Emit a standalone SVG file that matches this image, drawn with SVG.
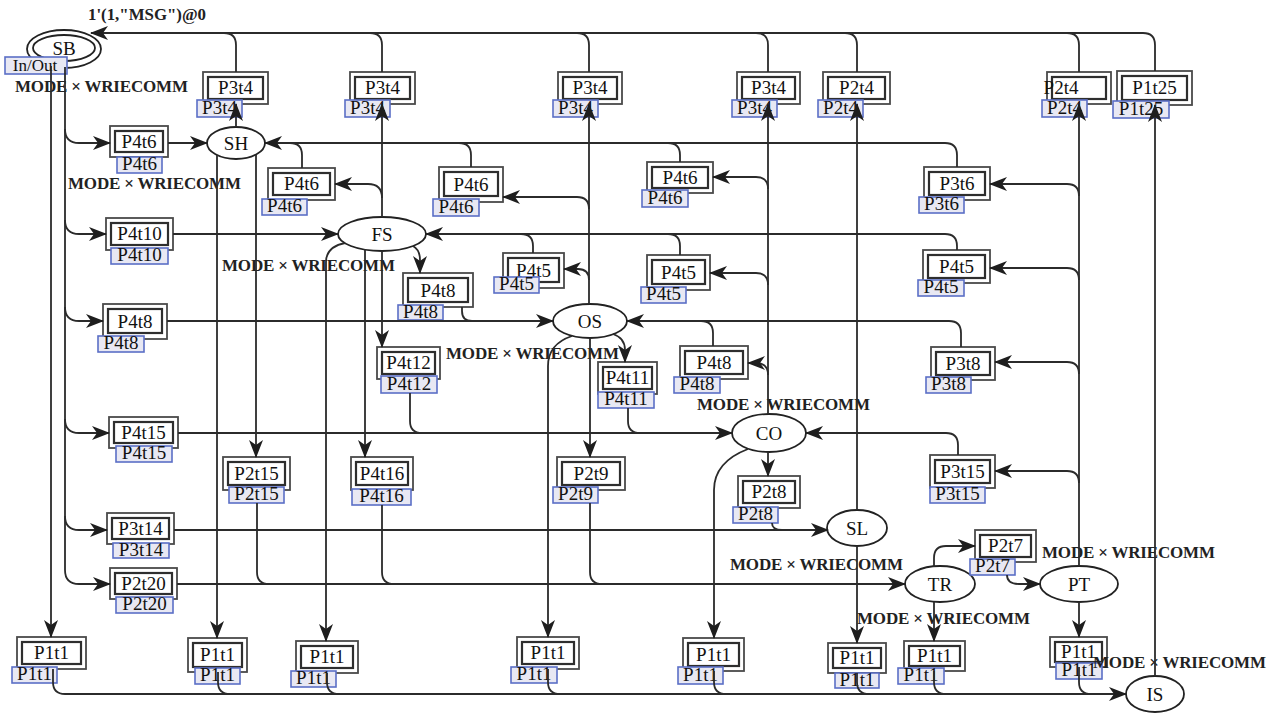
<svg xmlns="http://www.w3.org/2000/svg" width="1279" height="713" viewBox="0 0 1279 713">
<style>
.ln{fill:none;stroke:#2b2b2b;stroke-width:1.8}
.a{marker-end:url(#ah)}
.ob{fill:#fff;stroke:#4a4a4a;stroke-width:1.8}
.ib{fill:#fff;stroke:#2e2e2e;stroke-width:2.2}
.tg{fill:#e8e8f3;stroke:#5b6fc6;stroke-width:1.6}
.t{font-family:"Liberation Serif",serif;font-size:19px;fill:#111;text-anchor:middle}
.pl{fill:#fff;stroke:#222;stroke-width:1.8}
.m{font-family:"Liberation Serif",serif;font-size:17px;font-weight:bold;fill:#222}
</style>
<defs>
<marker id="ah" markerUnits="userSpaceOnUse" viewBox="0 0 18 14" refX="17" refY="7" markerWidth="18" markerHeight="14" orient="auto">
<path d="M0,0 L18,7 L0,14 L5,7 Z" fill="#1e1e1e"/>
</marker>
</defs>
<rect width="1279" height="713" fill="#fff"/>

<g id="places">
<g id="SB"><ellipse class="pl" cx="64" cy="49" rx="37" ry="19"/><ellipse class="pl" cx="64" cy="48" rx="31" ry="13"/><text class="t" x="64" y="55">SB</text>
<rect class="tg" x="5" y="57" width="62" height="17"/><text class="t" x="35" y="71" style="font-size:17px">In/Out</text></g>
<g id="SH"><ellipse class="pl" cx="236" cy="143" rx="29" ry="16"/><text class="t" x="236" y="150">SH</text></g>
<g id="FS"><ellipse class="pl" cx="382" cy="234" rx="44" ry="17"/><text class="t" x="382" y="241">FS</text></g>
<g id="OS"><ellipse class="pl" cx="590" cy="321" rx="37" ry="17"/><text class="t" x="590" y="328">OS</text></g>
<g id="CO"><ellipse class="pl" cx="769" cy="433" rx="37" ry="19"/><text class="t" x="769" y="440">CO</text></g>
<g id="SL"><ellipse class="pl" cx="857" cy="528" rx="30" ry="18"/><text class="t" x="857" y="535">SL</text></g>
<g id="TR"><ellipse class="pl" cx="940" cy="584" rx="35" ry="18"/><text class="t" x="940" y="591">TR</text></g>
<g id="PT"><ellipse class="pl" cx="1079" cy="584" rx="39" ry="18"/><text class="t" x="1079" y="591">PT</text></g>
<g id="IS"><ellipse class="pl" cx="1155" cy="694" rx="29" ry="18"/><text class="t" x="1155" y="701">IS</text></g>
</g>

<g id="transitions">
<g id="t1"><rect class="ob" x="203" y="72" width="65" height="32"/><rect class="ib" x="208" y="77" width="55" height="22"/><text class="t" x="235.5" y="94">P3t4</text><rect class="tg" x="197" y="100" width="45" height="17"/><text class="t" x="219.5" y="114">P3t4</text></g>
<g id="t2"><rect class="ob" x="350" y="72" width="65" height="32"/><rect class="ib" x="355" y="77" width="55" height="22"/><text class="t" x="382.5" y="94">P3t4</text><rect class="tg" x="345" y="100" width="45" height="17"/><text class="t" x="367.5" y="114">P3t4</text></g>
<g id="t3"><rect class="ob" x="558" y="72" width="64" height="32"/><rect class="ib" x="563" y="77" width="54" height="22"/><text class="t" x="590" y="94">P3t4</text><rect class="tg" x="553" y="100" width="45" height="17"/><text class="t" x="575.5" y="114">P3t4</text></g>
<g id="t4"><rect class="ob" x="737" y="72" width="63" height="32"/><rect class="ib" x="742" y="77" width="53" height="22"/><text class="t" x="768.5" y="94">P3t4</text><rect class="tg" x="732" y="100" width="45" height="17"/><text class="t" x="754.5" y="114">P3t4</text></g>
<g id="t5"><rect class="ob" x="823" y="72" width="67" height="32"/><rect class="ib" x="828" y="77" width="57" height="22"/><text class="t" x="856.5" y="94">P2t4</text><rect class="tg" x="818" y="100" width="45" height="17"/><text class="t" x="840.5" y="114">P2t4</text></g>
<g id="t6"><rect class="ob" x="1047" y="72" width="64" height="32"/><rect class="ib" x="1052" y="77" width="54" height="22"/><text class="t" x="1061" y="94">P2t4</text><rect class="tg" x="1042" y="100" width="45" height="17"/><text class="t" x="1064.5" y="114">P2t4</text></g>
<g id="t7"><rect class="ob" x="1117" y="71" width="75" height="34"/><rect class="ib" x="1122" y="76" width="65" height="24"/><text class="t" x="1154.5" y="94">P1t25</text><rect class="tg" x="1113" y="101" width="56" height="17"/><text class="t" x="1141" y="115">P1t25</text></g>
<g id="t8"><rect class="ob" x="110" y="126" width="58" height="31"/><rect class="ib" x="115" y="131" width="48" height="21"/><text class="t" x="139" y="148">P4t6</text><rect class="tg" x="117" y="157" width="45" height="16"/><text class="t" x="139.5" y="170">P4t6</text></g>
<g id="t9"><rect class="ob" x="268" y="168" width="67" height="32"/><rect class="ib" x="273" y="173" width="57" height="22"/><text class="t" x="301.5" y="190">P4t6</text><rect class="tg" x="262" y="199" width="45" height="16"/><text class="t" x="284.5" y="212">P4t6</text></g>
<g id="t10"><rect class="ob" x="439" y="167" width="64" height="35"/><rect class="ib" x="444" y="172" width="54" height="24"/><text class="t" x="471" y="191">P4t6</text><rect class="tg" x="433" y="199" width="46" height="17"/><text class="t" x="456" y="213">P4t6</text></g>
<g id="t11"><rect class="ob" x="647" y="162" width="66" height="31"/><rect class="ib" x="652" y="167" width="56" height="21"/><text class="t" x="680" y="184">P4t6</text><rect class="tg" x="642" y="190" width="46" height="17"/><text class="t" x="665" y="204">P4t6</text></g>
<g id="t12"><rect class="ob" x="924" y="167" width="66" height="33"/><rect class="ib" x="929" y="172" width="56" height="23"/><text class="t" x="957" y="190">P3t6</text><rect class="tg" x="919" y="197" width="45" height="16"/><text class="t" x="941.5" y="210">P3t6</text></g>
<g id="t13"><rect class="ob" x="106" y="218" width="67" height="32"/><rect class="ib" x="111" y="223" width="57" height="22"/><text class="t" x="139.5" y="240">P4t10</text><rect class="tg" x="111" y="248" width="57" height="16"/><text class="t" x="139.5" y="261">P4t10</text></g>
<g id="t14"><rect class="ob" x="103" y="304" width="64" height="35"/><rect class="ib" x="108" y="309" width="54" height="24"/><text class="t" x="135" y="328">P4t8</text><rect class="tg" x="98" y="336" width="46" height="16"/><text class="t" x="121" y="349">P4t8</text></g>
<g id="t15"><rect class="ob" x="403" y="273" width="70" height="34"/><rect class="ib" x="408" y="278" width="60" height="24"/><text class="t" x="438" y="297">P4t8</text><rect class="tg" x="398" y="305" width="45" height="15"/><text class="t" x="420.5" y="318">P4t8</text></g>
<g id="t16"><rect class="ob" x="503" y="253" width="61" height="35"/><rect class="ib" x="508" y="258" width="51" height="24"/><text class="t" x="533.5" y="277">P4t5</text><rect class="tg" x="494" y="277" width="45" height="16"/><text class="t" x="516.5" y="290">P4t5</text></g>
<g id="t17"><rect class="ob" x="647" y="255" width="63" height="35"/><rect class="ib" x="652" y="260" width="53" height="24"/><text class="t" x="678.5" y="279">P4t5</text><rect class="tg" x="641" y="287" width="45" height="16"/><text class="t" x="663.5" y="300">P4t5</text></g>
<g id="t18"><rect class="ob" x="923" y="250" width="67" height="33"/><rect class="ib" x="928" y="255" width="57" height="23"/><text class="t" x="956.5" y="273">P4t5</text><rect class="tg" x="918" y="280" width="46" height="16"/><text class="t" x="941" y="293">P4t5</text></g>
<g id="t19"><rect class="ob" x="377" y="347" width="63" height="32"/><rect class="ib" x="382" y="352" width="53" height="22"/><text class="t" x="408.5" y="369">P4t12</text><rect class="tg" x="381" y="376" width="56" height="17"/><text class="t" x="409" y="390">P4t12</text></g>
<g id="t20"><rect class="ob" x="598" y="362" width="59" height="32"/><rect class="ib" x="603" y="367" width="49" height="22"/><text class="t" x="627.5" y="384">P4t11</text><rect class="tg" x="598" y="392" width="56" height="16"/><text class="t" x="626" y="405">P4t11</text></g>
<g id="t21"><rect class="ob" x="680" y="346" width="68" height="33"/><rect class="ib" x="685" y="351" width="58" height="23"/><text class="t" x="714" y="369">P4t8</text><rect class="tg" x="674" y="377" width="46" height="16"/><text class="t" x="697" y="390">P4t8</text></g>
<g id="t22"><rect class="ob" x="931" y="347" width="64" height="33"/><rect class="ib" x="936" y="352" width="54" height="23"/><text class="t" x="963" y="370">P3t8</text><rect class="tg" x="926" y="377" width="45" height="16"/><text class="t" x="948.5" y="390">P3t8</text></g>
<g id="t23"><rect class="ob" x="109" y="417" width="69" height="31"/><rect class="ib" x="114" y="422" width="59" height="21"/><text class="t" x="143.5" y="439">P4t15</text><rect class="tg" x="116" y="446" width="56" height="16"/><text class="t" x="144" y="459">P4t15</text></g>
<g id="t24"><rect class="ob" x="223" y="457" width="67" height="33"/><rect class="ib" x="228" y="462" width="57" height="23"/><text class="t" x="256.5" y="480">P2t15</text><rect class="tg" x="229" y="487" width="55" height="16"/><text class="t" x="256.5" y="500">P2t15</text></g>
<g id="t25"><rect class="ob" x="351" y="457" width="62" height="33"/><rect class="ib" x="356" y="462" width="52" height="23"/><text class="t" x="382" y="480">P4t16</text><rect class="tg" x="352" y="489" width="59" height="16"/><text class="t" x="381.5" y="502">P4t16</text></g>
<g id="t26"><rect class="ob" x="557" y="457" width="68" height="33"/><rect class="ib" x="562" y="462" width="58" height="23"/><text class="t" x="591" y="480">P2t9</text><rect class="tg" x="553" y="487" width="45" height="16"/><text class="t" x="575.5" y="500">P2t9</text></g>
<g id="t27"><rect class="ob" x="738" y="476" width="62" height="32"/><rect class="ib" x="743" y="481" width="52" height="22"/><text class="t" x="769" y="498">P2t8</text><rect class="tg" x="733" y="507" width="45" height="16"/><text class="t" x="755.5" y="520">P2t8</text></g>
<g id="t28"><rect class="ob" x="930" y="455" width="65" height="33"/><rect class="ib" x="935" y="460" width="55" height="23"/><text class="t" x="962.5" y="478">P3t15</text><rect class="tg" x="930" y="487" width="55" height="16"/><text class="t" x="957.5" y="500">P3t15</text></g>
<g id="t29"><rect class="ob" x="107" y="513" width="67" height="31"/><rect class="ib" x="112" y="518" width="57" height="21"/><text class="t" x="140.5" y="535">P3t14</text><rect class="tg" x="113" y="543" width="56" height="15"/><text class="t" x="141" y="556">P3t14</text></g>
<g id="t30"><rect class="ob" x="110" y="568" width="67" height="31"/><rect class="ib" x="115" y="573" width="57" height="21"/><text class="t" x="143.5" y="590">P2t20</text><rect class="tg" x="116" y="597" width="57" height="16"/><text class="t" x="144.5" y="610">P2t20</text></g>
<g id="t31"><rect class="ob" x="975" y="530" width="61" height="32"/><rect class="ib" x="980" y="535" width="51" height="22"/><text class="t" x="1005.5" y="552">P2t7</text><rect class="tg" x="970" y="559" width="45" height="16"/><text class="t" x="992.5" y="572">P2t7</text></g>
<g id="t32"><rect class="ob" x="17" y="637" width="69" height="32"/><rect class="ib" x="22" y="642" width="59" height="22"/><text class="t" x="51.5" y="659">P1t1</text><rect class="tg" x="12" y="667" width="45" height="16"/><text class="t" x="34.5" y="680">P1t1</text></g>
<g id="t33"><rect class="ob" x="188" y="638" width="59" height="34"/><rect class="ib" x="193" y="643" width="49" height="24"/><text class="t" x="217.5" y="661">P1t1</text><rect class="tg" x="195" y="668" width="45" height="16"/><text class="t" x="217.5" y="681">P1t1</text></g>
<g id="t34"><rect class="ob" x="296" y="641" width="62" height="32"/><rect class="ib" x="301" y="646" width="52" height="22"/><text class="t" x="327" y="663">P1t1</text><rect class="tg" x="291" y="671" width="45" height="16"/><text class="t" x="313.5" y="684">P1t1</text></g>
<g id="t35"><rect class="ob" x="517" y="637" width="62" height="32"/><rect class="ib" x="522" y="642" width="52" height="22"/><text class="t" x="548" y="659">P1t1</text><rect class="tg" x="511" y="667" width="46" height="16"/><text class="t" x="534" y="680">P1t1</text></g>
<g id="t36"><rect class="ob" x="683" y="638" width="61" height="33"/><rect class="ib" x="688" y="643" width="51" height="23"/><text class="t" x="713.5" y="661">P1t1</text><rect class="tg" x="678" y="667" width="45" height="17"/><text class="t" x="700.5" y="681">P1t1</text></g>
<g id="t37"><rect class="ob" x="828" y="643" width="58" height="30"/><rect class="ib" x="833" y="648" width="48" height="20"/><text class="t" x="857" y="664">P1t1</text><rect class="tg" x="835" y="673" width="44" height="15"/><text class="t" x="857" y="686">P1t1</text></g>
<g id="t38"><rect class="ob" x="904" y="641" width="61" height="30"/><rect class="ib" x="909" y="646" width="51" height="20"/><text class="t" x="934.5" y="662">P1t1</text><rect class="tg" x="898" y="668" width="46" height="16"/><text class="t" x="921" y="681">P1t1</text></g>
<g id="t39"><rect class="ob" x="1050" y="637" width="57" height="30"/><rect class="ib" x="1055" y="642" width="47" height="20"/><text class="t" x="1078.5" y="658">P1t1</text><rect class="tg" x="1056" y="663" width="46" height="16"/><text class="t" x="1079" y="676">P1t1</text></g>
</g>

<g id="labels">
<text class="m" x="88" y="20" textLength="118" lengthAdjust="spacingAndGlyphs">1'(1,"MSG")@0</text>
<text class="m" x="15" y="92" textLength="173">MODE × WRIECOMM</text>
<text class="m" x="68" y="189" textLength="173">MODE × WRIECOMM</text>
<text class="m" x="222" y="271" textLength="173">MODE × WRIECOMM</text>
<text class="m" x="446" y="359" textLength="173">MODE × WRIECOMM</text>
<text class="m" x="697" y="410" textLength="173">MODE × WRIECOMM</text>
<text class="m" x="730" y="570" textLength="173">MODE × WRIECOMM</text>
<text class="m" x="857" y="624" textLength="173">MODE × WRIECOMM</text>
<text class="m" x="1042" y="558" textLength="173">MODE × WRIECOMM</text>
<text class="m" x="1093" y="668" textLength="173">MODE × WRIECOMM</text>
</g>

<g id="connectors">
<!-- to SB along the top -->
<path class="ln a" d="M1155,71 V45 Q1155,33 1143,33 H91"/>
<path class="ln" d="M1079,72 V45 Q1079,33 1067,33 H1055"/>
<path class="ln" d="M857,72 V45 Q857,33 845,33 H833"/>
<path class="ln" d="M768,72 V45 Q768,33 756,33 H744"/>
<path class="ln" d="M589,72 V45 Q589,33 577,33 H565"/>
<path class="ln" d="M382,72 V45 Q382,33 370,33 H358"/>
<path class="ln" d="M236,72 V45 Q236,33 224,33 H212"/>
<!-- from SB -->
<path class="ln a" d="M51,66 V637"/>
<path class="ln a" d="M65,67 V570 Q65,584 79,584 H110"/>
<path class="ln a" d="M65,129 Q65,143 79,143 H110"/>
<path class="ln a" d="M65,220 Q65,234 79,234 H106"/>
<path class="ln a" d="M65,307 Q65,321 79,321 H103"/>
<path class="ln a" d="M65,419 Q65,433 79,433 H109"/>
<path class="ln a" d="M65,516 Q65,530 79,530 H107"/>
<!-- SH -->
<path class="ln a" d="M168,143 H207"/>
<path class="ln a" d="M236,127 V104"/>
<path class="ln a" d="M957,167 V155 Q957,143 945,143 H265"/>
<path class="ln" d="M302,168 V155 Q302,143 290,143 H278"/>
<path class="ln" d="M471,167 V155 Q471,143 459,143 H447"/>
<path class="ln" d="M680,162 V155 Q680,143 668,143 H656"/>
<path class="ln a" d="M217,155 V638"/>
<path class="ln a" d="M256,155 V457"/>
<!-- FS -->
<path class="ln a" d="M173,234 H338"/>
<path class="ln a" d="M957,250 V246 Q957,234 945,234 H426"/>
<path class="ln" d="M533,253 V246 Q533,234 521,234 H509"/>
<path class="ln" d="M680,255 V246 Q680,234 668,234 H656"/>
<path class="ln a" d="M382,217 V104"/>
<path class="ln a" d="M382,198 Q382,184 368,184 H335"/>
<path class="ln a" d="M413,246 Q420,250 420,260 V273"/>
<path class="ln a" d="M382,251 V347"/>
<path class="ln a" d="M365,249 V457"/>
<path class="ln a" d="M345,243 Q326,247 326,262 V641"/>
<!-- OS -->
<path class="ln a" d="M167,321 H553"/>
<path class="ln" d="M462,307 V311 Q462,321 472,321 H482"/>
<path class="ln a" d="M961,347 V333 Q961,321 949,321 H627"/>
<path class="ln" d="M713,346 V333 Q713,321 701,321 H689"/>
<path class="ln a" d="M589,304 V104"/>
<path class="ln a" d="M589,209 Q589,197 577,197 H503"/>
<path class="ln a" d="M589,280 Q589,269 578,269 H564"/>
<path class="ln a" d="M613,334 Q625,338 625,350 V362"/>
<path class="ln a" d="M590,338 V457"/>
<path class="ln a" d="M572,336 Q548,344 548,366 V637"/>
<!-- CO -->
<path class="ln a" d="M178,433 H732"/>
<path class="ln" d="M410,393 V421 Q410,433 422,433 H434"/>
<path class="ln" d="M628,408 V421 Q628,433 640,433 H652"/>
<path class="ln a" d="M958,455 V445 Q958,433 946,433 H806"/>
<path class="ln a" d="M768,414 V104"/>
<path class="ln a" d="M768,189 Q768,177 756,177 H713"/>
<path class="ln a" d="M768,285 Q768,273 756,273 H710"/>
<path class="ln a" d="M768,375 Q768,363 756,363 H748"/>
<path class="ln a" d="M768,452 V476"/>
<path class="ln a" d="M748,449 Q714,462 714,490 V638"/>
<!-- SL -->
<path class="ln a" d="M174,530 H828"/>
<path class="ln" d="M772,523 Q772,530 782,530 H792"/>
<path class="ln a" d="M857,510 V104"/>
<path class="ln a" d="M857,546 V643"/>
<!-- TR -->
<path class="ln a" d="M177,584 H905"/>
<path class="ln" d="M257,503 V572 Q257,584 269,584 H281"/>
<path class="ln" d="M382,505 V572 Q382,584 394,584 H406"/>
<path class="ln" d="M590,503 V572 Q590,584 602,584 H614"/>
<path class="ln a" d="M934,567 V558 Q934,546 946,546 H975"/>
<path class="ln a" d="M934,602 V641"/>
<!-- PT -->
<path class="ln a" d="M1007,575 Q1007,584 1019,584 H1040"/>
<path class="ln a" d="M1079,566 V104"/>
<path class="ln a" d="M1079,196 Q1079,184 1067,184 H990"/>
<path class="ln a" d="M1079,280 Q1079,268 1067,268 H990"/>
<path class="ln a" d="M1079,374 Q1079,362 1067,362 H995"/>
<path class="ln a" d="M1079,483 Q1079,471 1067,471 H995"/>
<path class="ln a" d="M1079,602 V637"/>
<!-- to IS along the bottom -->
<path class="ln a" d="M53,669 V682 Q53,694 65,694 H1126"/>
<path class="ln" d="M218,672 V682 Q218,694 230,694 H242"/>
<path class="ln" d="M327,673 V682 Q327,694 339,694 H351"/>
<path class="ln" d="M548,669 V682 Q548,694 560,694 H572"/>
<path class="ln" d="M714,671 V682 Q714,694 726,694 H738"/>
<path class="ln" d="M857,673 V682 Q857,694 869,694 H881"/>
<path class="ln" d="M934,671 V682 Q934,694 946,694 H958"/>
<path class="ln" d="M1079,667 V682 Q1079,694 1091,694 H1103"/>
<path class="ln a" d="M1155,676 V105"/>
</g>
</svg>
